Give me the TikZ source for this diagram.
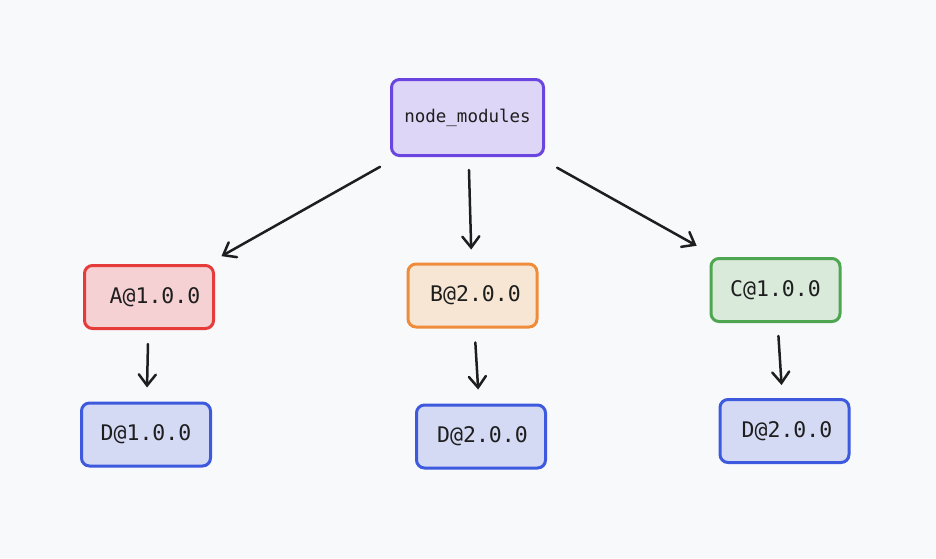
\documentclass[tikz,border=0pt]{standalone}
\usepackage{fontspec}
\setmonofont{DejaVu Sans Mono}
\usetikzlibrary{arrows.meta}
\definecolor{bg}{HTML}{F8F9FB}
\definecolor{ink}{HTML}{1E1E1E}
\definecolor{vioS}{HTML}{6A45DF}\definecolor{vioF}{HTML}{DED6F6}
\definecolor{redS}{HTML}{E53B3B}\definecolor{redF}{HTML}{F5D1D4}
\definecolor{oraS}{HTML}{EF8C3C}\definecolor{oraF}{HTML}{F8E6D4}
\definecolor{greS}{HTML}{4FA650}\definecolor{greF}{HTML}{D9EADB}
\definecolor{bluS}{HTML}{3D5ADF}\definecolor{bluF}{HTML}{D5DAF4}
\tikzset{
  box/.style={draw, line width=3pt, rounded corners=8pt, inner sep=0pt,
    minimum width=129pt, minimum height=63pt, text=ink,
    font=\ttfamily\fontsize{21.5}{25}\selectfont},
  vio/.style={box, draw=vioS, fill=vioF, minimum width=152pt, minimum height=76pt,
    font=\ttfamily\fontsize{17.5}{21}\selectfont},
  red/.style={box, draw=redS, fill=redF},
  ora/.style={box, draw=oraS, fill=oraF},
  gre/.style={box, draw=greS, fill=greF},
  blu/.style={box, draw=bluS, fill=bluF},
  conn/.style={draw=ink, line width=2.5pt, line cap=round,
    -{Straight Barb[length=11pt,width=17pt,line cap=round]}},
}
\begin{document}
\begin{tikzpicture}[x=1pt,y=-1pt]
\fill[bg] (0,0) rectangle (936,558);
\useasboundingbox (0,0) rectangle (936,558);
\node[vio] (nm) at (467.5,117.5) {node\_modules};
\node[red] (A) at (149,297) {\hspace{12pt}A@1.0.0};
\node[ora] (B) at (472.5,295.5) {\hspace{6pt}B@2.0.0};
\node[gre] (C) at (775.5,290) {C@1.0.0};
\node[blu] (DA) at (146,434.5) {D@1.0.0};
\node[blu] (DB) at (481,436.5) {\hspace{3pt}D@2.0.0};
\node[blu] (DC) at (784.5,431) {\hspace{5pt}D@2.0.0};
\draw[conn, shorten <=20pt, shorten >=16pt] (nm) -- (A);
\draw[conn, shorten <=13pt, shorten >=13pt] (nm) -- (B);
\draw[conn, shorten <=22pt, shorten >=23pt] (nm) -- (C);
\draw[conn, shorten <=14pt, shorten >=14pt] (A) -- (DA);
\draw[conn, shorten <=14pt, shorten >=14pt] (B) -- (DB);
\draw[conn, shorten <=13pt, shorten >=13pt] (C) -- (DC);
\end{tikzpicture}
\end{document}
